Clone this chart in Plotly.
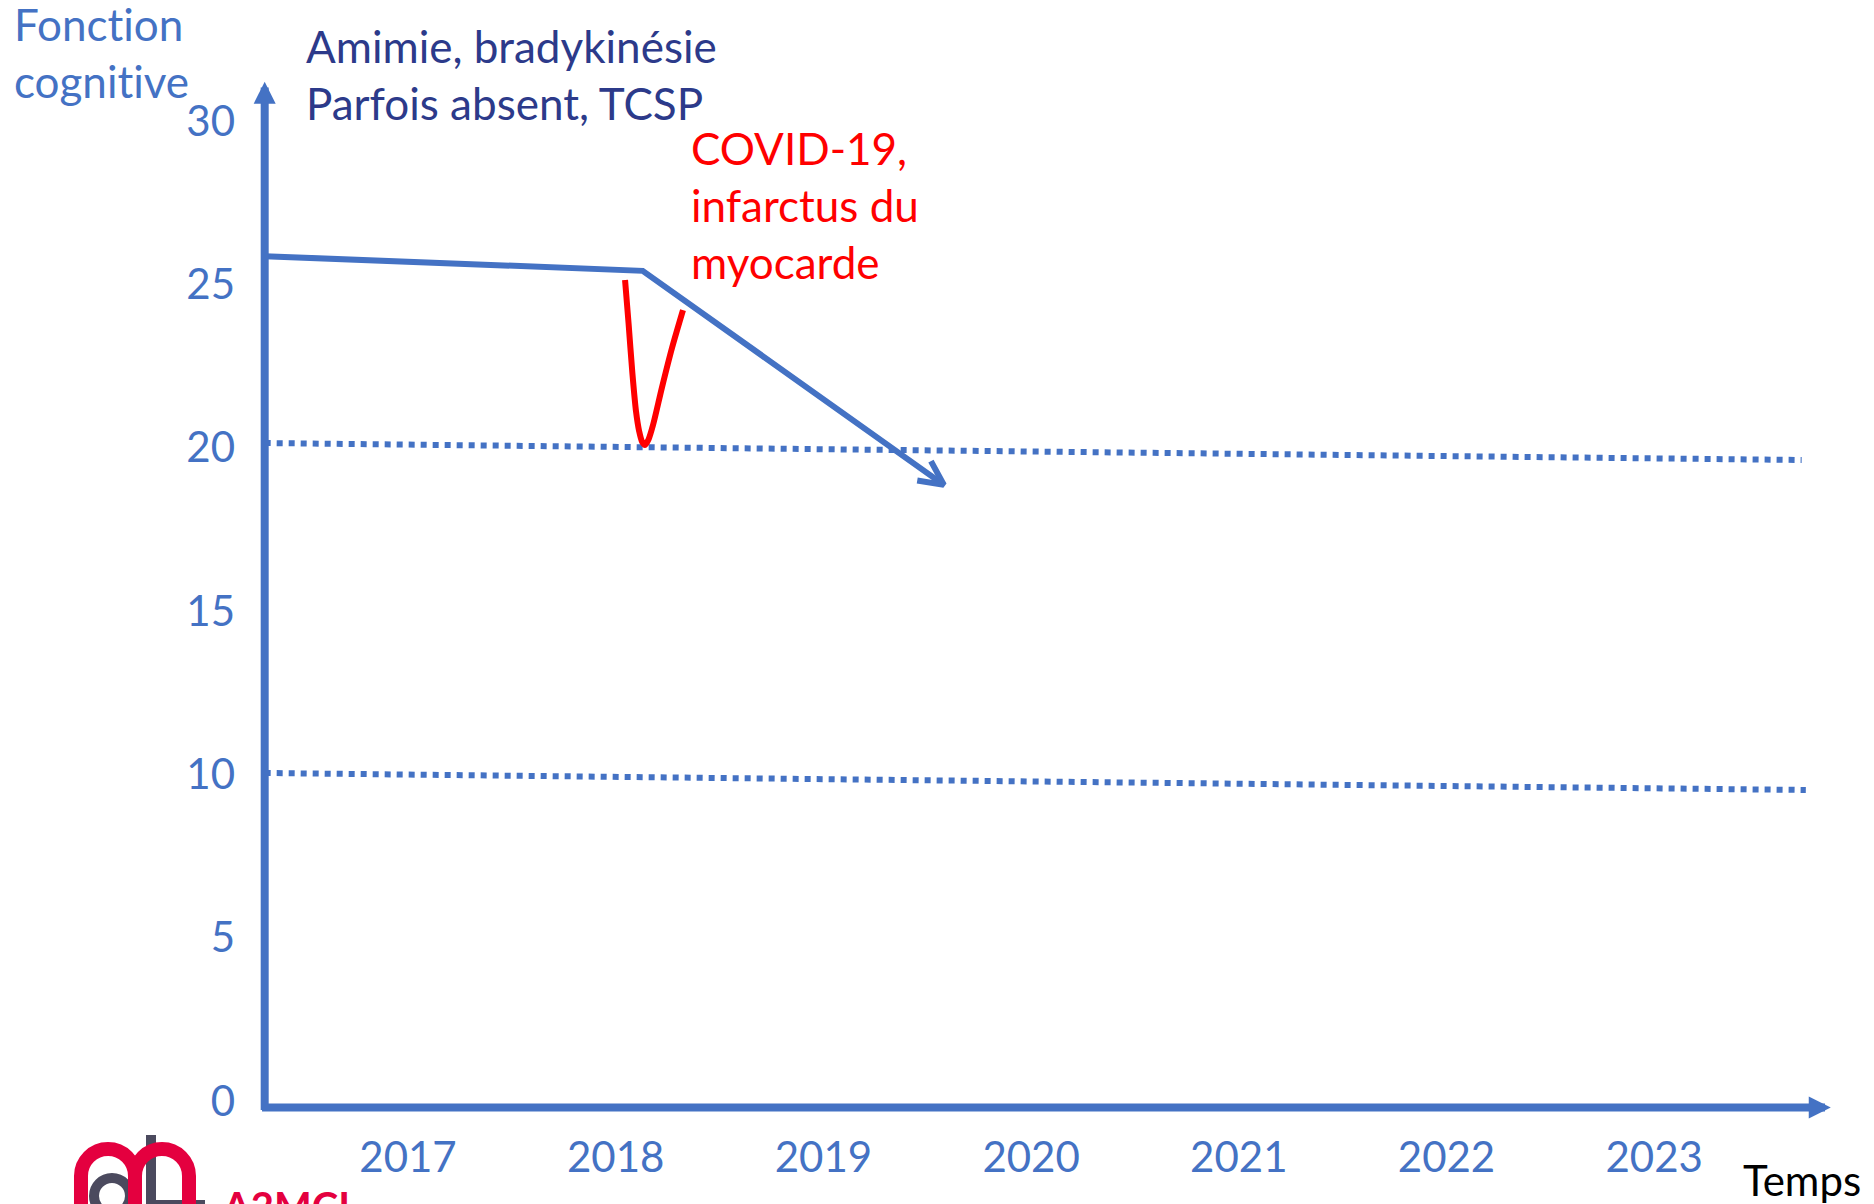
import math
import plotly.graph_objects as go

# ---------------- data ----------------
years = [2017, 2018, 2019, 2020, 2021, 2022, 2023]
year_labels = ["2017", "2018", "2019", "2020", "2021", "2022", "2023"]
score_ticks = [0, 5, 10, 15, 20, 25, 30]
score_labels = ["0", "5", "10", "15", "20", "25", "30"]

axis_origin_x = 2016.31
axis_origin_y = -0.2
axis_x_end = 2023.85
axis_y_end = 31.2

trend_x = [2016.31, 2018.13, 2019.58]
trend_y = [25.86, 25.41, 18.86]

event_x = [2018.045, 2018.062, 2018.080, 2018.098, 2018.113, 2018.127, 2018.141, 2018.158, 2018.180, 2018.223, 2018.271, 2018.324]
event_y = [25.13, 23.80, 22.30, 21.10, 20.50, 20.18, 20.08, 20.25, 20.70, 21.85, 23.05, 24.21]

thr20_x = [2016.31, 2023.71]
thr20_y = [20.14, 19.62]
thr10_x = [2016.31, 2023.73]
thr10_y = [10.04, 9.52]

# ---------------- layout geometry ----------------
W, H = 1874, 1204
ML, MR, MT, MB = 240, 0, 0, 79
X2017_PX, PX_PER_YEAR = 408.0, 207.7
Y0_PX, PX_PER_UNIT = 1101.0, 32.67

def x_of_px(p):
    return 2017 + (p - X2017_PX) / PX_PER_YEAR

def y_of_px(p):
    return (Y0_PX - p) / PX_PER_UNIT

def px_of_x(x):
    return X2017_PX + (x - 2017) * PX_PER_YEAR

def px_of_y(y):
    return Y0_PX - y * PX_PER_UNIT

plot_w = W - ML - MR
plot_h = H - MT - MB

def pxp(p):  # pixel x -> paper
    return (p - ML) / plot_w

def pyp(p):  # pixel y -> paper
    return (H - MB - p) / plot_h

BLUE = "#4472C4"
NAVY = "#2C3A8A"
RED = "#FF0000"
FONT = "Lato, Calibri, Carlito, sans-serif"
FS = 42
FS_TXT = 44
NOLIG = '<span style="font-variant-ligatures:none">{}</span>'

fig = go.Figure()

# dotted threshold lines
for xs, ys in [(thr20_x, thr20_y), (thr10_x, thr10_y)]:
    fig.add_trace(go.Scatter(x=xs, y=ys, mode="lines",
                             line=dict(color=BLUE, width=6, dash="6px,6px"),
                             hoverinfo="skip", showlegend=False))

# trend line
fig.add_trace(go.Scatter(x=trend_x, y=trend_y, mode="lines",
                         line=dict(color=BLUE, width=6),
                         hoverinfo="skip", showlegend=False))

# open arrowhead at trend end (computed from the last segment direction)
tx, ty = px_of_x(trend_x[-1]), px_of_y(trend_y[-1])
sx, sy = px_of_x(trend_x[-2]), px_of_y(trend_y[-2])
ang = math.atan2(sy - ty, sx - tx)
arm = 27
spread = math.radians(26)
a1 = (tx + arm * math.cos(ang - spread), ty + arm * math.sin(ang - spread))
a2 = (tx + arm * math.cos(ang + spread), ty + arm * math.sin(ang + spread))
fig.add_trace(go.Scatter(
    x=[x_of_px(a1[0]), trend_x[-1], x_of_px(a2[0])],
    y=[y_of_px(a1[1]), trend_y[-1], y_of_px(a2[1])],
    mode="lines", line=dict(color=BLUE, width=6),
    hoverinfo="skip", showlegend=False))

# acute event dip
fig.add_trace(go.Scatter(x=event_x, y=event_y, mode="lines",
                         line=dict(color=RED, width=6, shape="spline", smoothing=0.8),
                         hoverinfo="skip", showlegend=False))

annotations = []
# axes with arrows
annotations.append(dict(x=axis_origin_x, y=axis_y_end, ax=axis_origin_x, ay=axis_origin_y - 0.12,
                        xref="x", yref="y", axref="x", ayref="y", text="", showarrow=True,
                        arrowhead=2, arrowsize=0.55, arrowwidth=8, arrowcolor=BLUE))
annotations.append(dict(x=axis_x_end, y=axis_origin_y, ax=axis_origin_x - 0.02, ay=axis_origin_y,
                        xref="x", yref="y", axref="x", ayref="y", text="", showarrow=True,
                        arrowhead=2, arrowsize=0.55, arrowwidth=8, arrowcolor=BLUE))

def txt(text, xp, yp, color, size=FS_TXT):
    return dict(text=text, x=pxp(xp), y=pyp(yp), xref="paper", yref="paper",
                xanchor="left", yanchor="middle", align="left", showarrow=False,
                font=dict(family=FONT, size=size, color=color))

annotations.append(txt(NOLIG.format("Fonction") + "<br>" + NOLIG.format("cognitive"), 12, 53, BLUE))
annotations.append(txt("Amimie, bradykinésie<br>Parfois absent, TCSP", 304, 74, NAVY))
annotations.append(txt("COVID-19,<br>infarctus du<br>myocarde", 689, 205, RED))
annotations.append(txt("Temps", 1741, 1180, "#000000", FS))
annotations.append(dict(text="<b>A2MCL</b>", x=pxp(220), y=pyp(1180), xref="paper", yref="paper",
                        xanchor="left", yanchor="top", showarrow=False,
                        font=dict(family=FONT, size=40, color="#E4003F")))

# ---------------- logo (approximate) ----------------
def P(x, y):
    return f"{pxp(x):.5f},{pyp(y):.5f}"

def arch(cx, cy, r, bottom):
    k = 0.5523 * r
    return (f"M{P(cx - r, bottom)} L{P(cx - r, cy)} "
            f"C{P(cx - r, cy - k)} {P(cx - k, cy - r)} {P(cx, cy - r)} "
            f"C{P(cx + k, cy - r)} {P(cx + r, cy - k)} {P(cx + r, cy)} "
            f"L{P(cx + r, bottom)}")

def circle(cx, cy, r):
    k = 0.5523 * r
    return (f"M{P(cx - r, cy)} C{P(cx - r, cy - k)} {P(cx - k, cy - r)} {P(cx, cy - r)} "
            f"C{P(cx + k, cy - r)} {P(cx + r, cy - k)} {P(cx + r, cy)} "
            f"C{P(cx + r, cy + k)} {P(cx + k, cy + r)} {P(cx, cy + r)} "
            f"C{P(cx - k, cy + r)} {P(cx - r, cy + k)} {P(cx - r, cy)} Z")

GRAY = "#4B4A5E"
CRIM = "#E4003F"
shapes = [
    dict(type="rect", xref="paper", yref="paper", x0=pxp(146), x1=pxp(156), y0=pyp(1215), y1=pyp(1135),
         fillcolor=GRAY, line=dict(width=0), layer="above"),
    dict(type="path", xref="paper", yref="paper", path=circle(112, 1196, 18),
         line=dict(color=GRAY, width=10), layer="above"),
    dict(type="rect", xref="paper", yref="paper", x0=pxp(150), x1=pxp(205), y0=pyp(1206), y1=pyp(1200),
         fillcolor=GRAY, line=dict(width=0), layer="above"),
    dict(type="path", xref="paper", yref="paper", path=arch(108, 1176, 27, 1215),
         line=dict(color=CRIM, width=14), layer="above"),
    dict(type="path", xref="paper", yref="paper", path=arch(162, 1176, 27, 1215),
         line=dict(color=CRIM, width=14), layer="above"),
]

fig.update_layout(
    width=W, height=H,
    margin=dict(l=ML, r=MR, t=MT, b=MB, pad=0),
    paper_bgcolor="white", plot_bgcolor="white",
    showlegend=False,
    annotations=annotations,
    shapes=shapes,
    xaxis=dict(range=[x_of_px(ML), x_of_px(W - MR)], tickvals=years, ticktext=year_labels,
               showgrid=False, zeroline=False, showline=False, ticks="",
               ticklabelstandoff=4,
               tickfont=dict(family=FONT, size=FS, color=BLUE), fixedrange=True),
    yaxis=dict(range=[y_of_px(H - MB), y_of_px(MT)], tickvals=score_ticks, ticktext=score_labels,
               showgrid=False, zeroline=False, showline=False, ticks="",
               ticklabelstandoff=4,
               tickfont=dict(family=FONT, size=FS, color=BLUE), fixedrange=True),
)

fig.write_html("out.html", config={"displayModeBar": False},
               post_script="document.body.style.margin='0px';document.body.style.overflow='hidden';")
